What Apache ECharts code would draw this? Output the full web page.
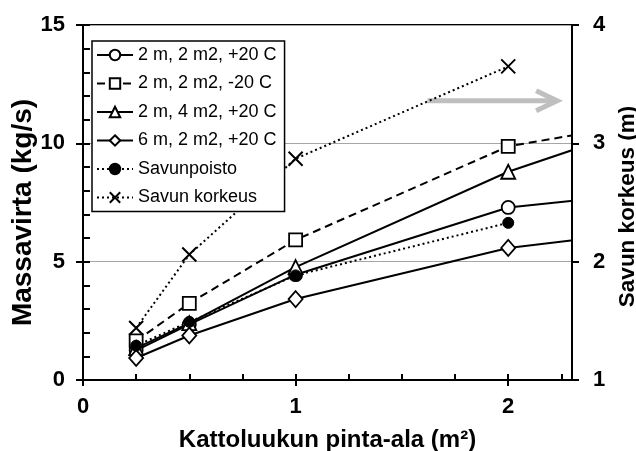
<!DOCTYPE html>
<html>
<head>
<meta charset="utf-8">
<script src="https://cdn.jsdelivr.net/npm/echarts@6/dist/echarts.min.js"></script>
<style>
  html, body { margin: 0; padding: 0; background: #fff; }
  #chart { width: 636px; height: 451px; }
</style>
</head>
<body>
<div id="chart"></div>
<script>
// Roof vent area (m2); the last point lies beyond the visible axis range
const areas = [0.25, 0.5, 1, 2, 3];
const areasSmoke = [0.25, 0.5, 1, 2];

// Mass flow (kg/s)
const flow2m2m2Warm = [1.25, 2.35, 4.45, 7.29, 8.22];
const flow2m2m2Cold = [1.65, 3.24, 5.92, 9.87, 11.43];
const flow2m4m2Warm = [1.35, 2.40, 4.77, 8.80, 11.83];
const flow6m2m2Warm = [0.93, 1.88, 3.42, 5.58, 6.65];
const flowExhaust   = [1.45, 2.46, 4.42, 6.64];

// Smoke layer height (m), right axis
const smokeHeight = [1.44, 2.06, 2.87, 3.65];

const seriesNames = [
  '2 m, 2 m2, +20 C',
  '2 m, 2 m2, -20 C',
  '2 m, 4 m2, +20 C',
  '6 m, 2 m2, +20 C',
  'Savunpoisto',
  'Savun korkeus'
];

const xTicks = [0, 1, 2];
const leftTicks = [0, 5, 10, 15];
const rightTicks = [1, 2, 3, 4];

const pairs = (xs, ys) => ys.map((y, i) => [xs[i], y]);

const FONT = '"Liberation Sans", Arial, sans-serif';
const black = '#000';

function lineSeries(name, data, symbol, opts) {
  return Object.assign({
    name: name,
    type: 'line',
    xAxisIndex: 0,
    yAxisIndex: 0,
    data: data,
    symbol: symbol,
    symbolSize: 13,
    clip: true,
    animation: false,
    lineStyle: { color: black, width: 2 },
    itemStyle: { color: '#fff', borderColor: black, borderWidth: 1.8 },
    emphasis: { disabled: true }
  }, opts || {});
}

const chart = echarts.init(document.getElementById('chart'), null, { renderer: 'canvas' });

const gridPos = { left: 83, right: 64, top: 25, bottom: 71 };

const option = {
  animation: false,
  backgroundColor: '#fff',
  textStyle: { fontFamily: FONT },
  grid: Object.assign({
    show: true, borderColor: black, borderWidth: 2, backgroundColor: 'transparent',
    containLabel: false, outerBoundsMode: 'none'
  }, gridPos),
  legend: {
    data: seriesNames,
    orient: 'vertical',
    left: 92,
    top: 41,
    padding: [5, 8, 5, 4],
    itemWidth: 36,
    itemHeight: 13,
    itemGap: 10.5,
    backgroundColor: '#fff',
    borderColor: black,
    borderWidth: 1.5,
    borderRadius: 0,
    textStyle: { fontFamily: FONT, fontSize: 18, color: black, lineHeight: 18 }
  },
  xAxis: [
    {
      type: 'value', min: 0, max: 2.3, interval: 1,
      name: 'Kattoluukun pinta-ala (m²)',
      nameLocation: 'middle', nameGap: 48, nameMoveOverlap: false,
      nameTextStyle: { fontFamily: FONT, fontSize: 24, fontWeight: 'bold', color: black },
      axisLine: { show: true, onZero: false, lineStyle: { color: black, width: 2 } },
      axisTick: { show: true, inside: false, length: 6, lineStyle: { color: black, width: 2 } },
      axisLabel: {
        fontFamily: FONT, fontSize: 22, fontWeight: 'bold', color: black, margin: 16,
        showMaxLabel: false,
        formatter: v => (xTicks.indexOf(v) >= 0 ? String(v) : '')
      },
      splitLine: { show: false }
    },
    {
      type: 'value', min: 0, max: 2.3, interval: 1, position: 'bottom',
      axisLine: { show: false },
      axisTick: { show: true, inside: true, length: 6, lineStyle: { color: black, width: 2 } },
      minorTick: { show: true, splitNumber: 4, length: 6, lineStyle: { color: black, width: 2 } },
      axisLabel: { show: false },
      splitLine: { show: false }
    }
  ],
  yAxis: [
    {
      type: 'value', min: 0, max: 15, interval: 5, position: 'left',
      name: 'Massavirta (kg/s)',
      nameLocation: 'middle', nameGap: 46, nameRotate: 90, nameMoveOverlap: false,
      nameTextStyle: { fontFamily: FONT, fontSize: 28, fontWeight: 'bold', color: black, padding: [0, 20, 0, 0] },
      axisLine: { show: true, onZero: false, lineStyle: { color: black, width: 2 } },
      axisTick: { show: true, inside: false, length: 5, lineStyle: { color: black, width: 2 } },
      axisLabel: {
        fontFamily: FONT, fontSize: 22, fontWeight: 'bold', color: black, margin: 18,
        formatter: v => (leftTicks.indexOf(v) >= 0 ? String(v) : '')
      },
      splitLine: { show: true, lineStyle: { color: '#a6a6a6', width: 1 } }
    },
    {
      type: 'value', min: 1, max: 4, interval: 1, position: 'right',
      name: 'Savun korkeus (m)',
      nameLocation: 'middle', nameGap: 44, nameRotate: 90, nameMoveOverlap: false,
      nameTextStyle: { fontFamily: FONT, fontSize: 22.5, fontWeight: 'bold', color: black, padding: [0, 8, 0, 0] },
      axisLine: { show: true, onZero: false, lineStyle: { color: black, width: 2 } },
      axisTick: { show: true, inside: false, length: 7, lineStyle: { color: black, width: 2 } },
      axisLabel: {
        fontFamily: FONT, fontSize: 22, fontWeight: 'bold', color: black, margin: 21,
        formatter: v => (rightTicks.indexOf(v) >= 0 ? String(v) : '')
      },
      splitLine: { show: false }
    },
    {
      type: 'value', min: 0, max: 15, interval: 5, position: 'left',
      axisLine: { show: false },
      axisTick: { show: true, inside: true, length: 7, lineStyle: { color: black, width: 2 } },
      minorTick: { show: true, splitNumber: 5, length: 7, lineStyle: { color: black, width: 2 } },
      axisLabel: { show: false },
      splitLine: { show: false }
    },
    {
      type: 'value', min: 1, max: 4, interval: 1, position: 'right',
      axisLine: { show: false },
      axisTick: { show: true, inside: true, length: 7, lineStyle: { color: black, width: 2 } },
      axisLabel: { show: false },
      splitLine: { show: false }
    }
  ],
  series: [
    lineSeries(seriesNames[0], pairs(areas, flow2m2m2Warm), 'circle'),
    lineSeries(seriesNames[1], pairs(areas, flow2m2m2Cold), 'rect', {
      lineStyle: { color: black, width: 2, type: [8, 5] }
    }),
    lineSeries(seriesNames[2], pairs(areas, flow2m4m2Warm), 'triangle', { symbolSize: 14 }),
    lineSeries(seriesNames[3], pairs(areas, flow6m2m2Warm), 'diamond', { symbolSize: [14, 16] }),
    lineSeries(seriesNames[4], pairs(areasSmoke, flowExhaust), 'circle', {
      symbolSize: 11,
      lineStyle: { color: black, width: 2, type: [2, 3] },
      itemStyle: { color: black, borderColor: black, borderWidth: 1 }
    }),
    lineSeries(seriesNames[5], pairs(areasSmoke, smokeHeight), 'path://M0,0L10,10M10,0L0,10', {
      yAxisIndex: 1,
      symbolSize: 14,
      lineStyle: { color: black, width: 2, type: [2, 3] },
      itemStyle: { color: 'none', borderColor: black, borderWidth: 2 }
    })
  ]
};

chart.setOption(option);

// Grey arrow pointing towards the right-hand (smoke height) axis
const arrowFrom = [1.62, 3.36];
const arrowTo = [2.23, 3.36];
const p0 = chart.convertToPixel({ xAxisIndex: 0, yAxisIndex: 1 }, arrowFrom);
const p1 = chart.convertToPixel({ xAxisIndex: 0, yAxisIndex: 1 }, arrowTo);
const arrowStyle = { stroke: '#bfbfbf', lineWidth: 5, fill: null, lineCap: 'butt', lineJoin: 'miter' };
chart.setOption({
  graphic: [
    {
      type: 'line', z: 3, silent: true,
      shape: { x1: p0[0], y1: p0[1], x2: p1[0] - 2, y2: p1[1] },
      style: arrowStyle
    },
    {
      type: 'polyline', z: 3, silent: true,
      shape: { points: [[p1[0] - 21, p1[1] - 10], [p1[0], p1[1]], [p1[0] - 21, p1[1] + 10]] },
      style: arrowStyle
    }
  ]
});
</script>
</body>
</html>
